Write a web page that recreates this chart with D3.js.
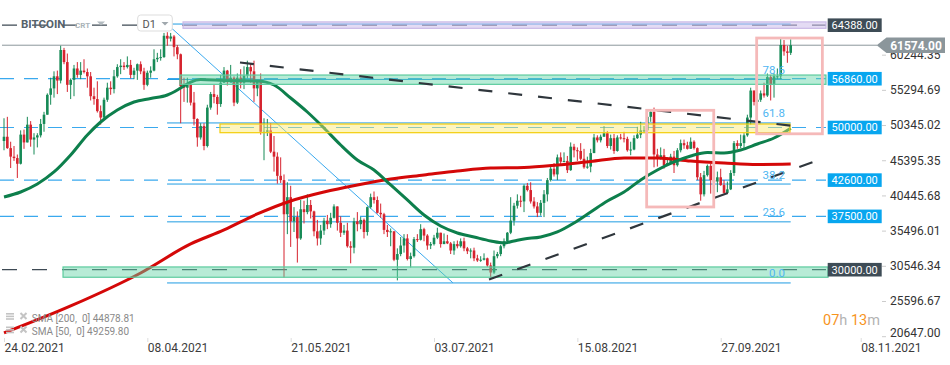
<!DOCTYPE html>
<html><head><meta charset="utf-8">
<script src="https://cdn.jsdelivr.net/npm/d3@7"></script>
<style>
html,body{margin:0;padding:0;background:#fff;}
svg{display:block;font-family:Roboto,"Noto Sans",sans-serif;}
</style></head><body>
<svg id="chart" width="950" height="365"></svg>
<script>
// ---------------- DATA (prices of daily candles, in thousands USD) ----------------
const candleStart = "2021-02-24";
const firstOpenK = 48.1;
const closesK = [48.7,47.1,45.9,45.7,44.9,49.0,47.9,50.4,48.3,48.6,48.9,50.5,51.8,54.6,55.5,57.2,56.6,60.9,59.2,56.0,
56.7,58.3,57.4,58.0,57.8,57.2,54.4,54.0,52.3,51.4,53.9,55.6,55.4,57.2,58.5,58.7,58.5,58.8,57.4,58.0,
58.9,57.9,56.0,57.7,58.0,59.6,59.8,59.9,62.9,62.5,62.8,61.3,60.3,55.8,55.6,56.0,53.5,51.2,48.6,50.2,
47.4,52.8,54.7,54.3,53.3,56.3,58.0,56.4,57.0,53.5,57.0,56.3,57.3,58.5,57.9,55.5,56.4,49.4,49.4,49.6,
46.6,45.9,43.2,42.6,37.8,40.2,36.8,37.4,34.4,38.5,38.1,39.1,38.2,35.4,34.4,35.5,36.9,36.4,37.3,38.9,
36.6,35.2,35.5,33.3,33.1,36.8,36.4,37.0,35.3,38.8,40.2,39.8,38.0,37.8,35.6,35.3,35.4,31.4,32.2,33.4,
34.4,31.5,31.9,34.3,34.2,35.7,34.8,33.4,33.6,34.5,35.2,33.6,34.0,33.7,32.7,33.6,33.3,34.0,33.0,32.6,
32.7,31.6,31.3,31.4,31.6,30.6,29.6,31.9,32.2,33.3,34.0,35.2,36.9,39.0,39.7,39.6,41.8,41.2,39.6,38.9,
38.0,39.4,40.6,42.6,44.2,43.4,45.8,45.2,45.3,44.0,47.3,46.8,46.7,45.6,44.4,44.5,46.4,48.6,48.2,48.7,
49.2,47.4,48.5,46.7,48.6,48.5,48.4,46.8,46.9,48.5,49.0,49.6,49.6,51.5,52.2,46.2,45.8,46.1,44.7,45.0,
45.9,44.7,46.8,47.8,47.5,47.0,48.0,47.1,43.0,40.6,43.3,44.6,42.6,42.4,43.0,41.9,40.8,41.3,43.6,47.8,
47.4,47.8,48.9,51.4,55.2,53.6,53.9,54.8,54.5,57.1,56.0,57.2,57.2,61.6,60.7,60.5,61.574];
const highsK = [51.3,51.5,48.0,47.4,46.2,49.6,49.7,51.5,50.9,49.2,49.2,51.2,52.2,54.8,57.0,57.9,58.0,61.5,61.2,60.4,
56.9,58.8,59.2,59.2,59.6,58.3,57.8,55.6,56.5,53.1,54.2,56.3,56.5,58.1,58.9,59.6,59.2,60.0,59.5,58.4,
59.0,59.3,58.4,58.0,58.6,61.0,60.5,61.0,63.3,63.4,63.3,63.0,61.6,60.4,57.0,57.0,56.5,55.0,51.3,50.6,
50.6,53.2,55.0,56.0,54.6,57.4,58.5,58.1,58.8,57.2,57.6,58.2,58.6,59.4,59.0,59.4,56.7,57.6,51.3,51.2,
50.6,48.8,46.5,45.8,43.4,42.3,41.8,38.8,38.2,39.8,39.7,40.6,39.8,38.3,37.0,36.3,37.3,37.7,38.0,39.2,
38.9,37.5,36.3,36.6,34.0,37.3,38.1,37.4,37.2,38.9,40.7,41.0,40.3,39.3,38.0,36.3,35.8,35.4,33.0,34.6,
35.0,35.0,32.4,34.6,35.0,36.4,35.9,35.0,33.9,34.9,35.9,35.2,35.1,34.9,33.9,34.0,34.1,34.4,34.5,33.2,
33.0,33.1,32.1,31.9,32.3,31.7,31.0,32.7,32.5,33.5,34.4,35.3,40.2,39.4,40.6,40.4,42.0,42.2,42.3,40.2,
39.5,39.8,41.2,42.9,44.5,45.0,46.2,46.5,46.5,46.0,47.9,47.7,47.2,47.8,47.0,45.9,47.0,49.1,48.9,49.0,
50.2,49.5,49.0,49.1,48.9,49.1,49.4,48.7,48.0,48.9,50.1,50.8,50.2,51.6,52.6,52.8,47.0,47.2,47.0,45.8,
46.3,46.7,47.1,48.3,48.3,48.0,48.6,48.2,47.2,43.6,43.9,44.8,44.9,42.9,43.8,44.2,42.6,42.4,44.0,48.1,
48.2,49.0,49.2,51.8,55.6,55.1,56.0,55.2,56.3,57.6,57.4,57.6,58.3,62.6,62.3,61.5,62.4];
const lowsK = [46.8,47.0,44.3,45.3,42.9,44.8,47.0,47.9,47.3,46.2,47.2,48.6,49.4,51.8,53.2,54.2,54.7,56.2,58.9,55.0,
54.0,54.4,57.0,56.8,57.6,55.6,53.8,53.2,52.1,50.4,51.3,53.6,54.6,54.8,57.0,57.5,58.1,58.3,56.9,56.8,
56.7,57.5,55.3,55.8,57.0,57.9,59.2,59.4,59.8,61.5,62.1,60.0,59.6,50.6,53.6,53.5,53.1,50.3,47.3,48.3,
46.8,47.2,52.5,53.4,51.8,52.9,56.3,55.9,56.3,53.0,53.3,55.5,55.4,56.9,56.3,53.6,54.4,49.0,45.4,48.8,
46.4,43.8,42.1,42.2,28.9,35.0,33.2,35.3,31.0,34.2,36.5,37.8,37.2,34.7,33.4,33.5,34.9,35.7,35.9,37.2,
35.5,34.6,34.9,33.1,30.9,32.3,35.4,35.7,34.4,34.8,38.6,39.3,37.9,37.3,35.0,34.6,33.3,31.2,28.5,31.9,
32.4,31.3,30.3,31.7,33.9,34.1,34.0,32.8,32.9,33.4,34.3,33.1,33.6,33.6,32.2,32.1,33.0,33.1,32.6,32.2,
31.6,31.2,31.1,31.1,31.3,30.4,28.9,29.4,31.6,31.9,33.0,33.8,35.0,36.2,38.6,38.8,38.1,41.0,39.3,38.6,
37.4,37.6,37.4,39.6,42.4,43.1,42.6,44.8,45.1,43.6,43.9,45.8,45.3,45.4,44.2,44.2,43.7,46.4,47.9,47.9,
48.7,47.1,46.9,46.3,46.6,48.3,47.9,46.6,46.1,46.8,48.4,48.5,49.2,49.3,50.8,44.4,44.5,45.5,44.2,44.6,
44.8,43.6,44.5,46.5,47.0,46.9,47.0,46.9,42.6,39.7,40.3,43.1,40.7,41.7,40.9,41.8,40.7,40.8,41.2,43.2,
47.0,47.1,46.9,48.7,50.4,53.1,53.3,53.6,54.2,54.3,53.8,54.2,56.8,56.8,60.1,59.1,60.2];

// moving averages (day offset from candleStart, value)
const sma50Days = [0,5,10,15,20,25,29,34,39,44,49,53,56,59,66,76,81,86,91,96,101,106,111,116,121,126,131,136,141,146,150,153,156,161,166,171,176,181,186,191,196,201,206,211,216,221,226,231,236];
const sma50Vals = [40228,40931,42056,43743,46134,48946,50773,52461,53585,54077,54570,55554,56397,56749,56608,56538,55976,54148,52179,49930,47540,45430,44025,41916,39807,37698,36151,35167,34604,34042,33761,34042,34323,34604,35307,36573,38119,39666,40931,42619,44025,45150,45993,46485,46415,46837,47680,48524,49900];
const sma200Days = [0,20,41,56,66,76,86,96,106,116,126,136,146,156,166,176,186,196,206,216,226,236];
const sma200Vals = [21106,24903,29543,33620,35589,37838,39666,40931,41916,42759,43321,43884,44306,44376,44728,45220,45712,45712,45290,45009,44798,44850];

// horizontal levels with price tags
const levelValues = [64388, 56860, 50000, 42600, 37500, 30000];
const levelKinds  = ["dark", "blue", "blue", "blue", "blue", "dark"];
// zones
const zoneLow  = [63950, 56070, 49270, 28938];
const zoneHigh = [64850, 57380, 50492, 30386];
const zoneFrom = ["2021-04-18T17:00Z", "2021-04-17T19:00Z", "2021-04-29T19:00Z", "2021-03-13T17:00Z"];
const zoneTo   = ["2021-10-28T14:00Z", "2021-10-28T14:00Z", "2021-10-17T19:00Z", "2021-10-29T05:00Z"];
const zoneKind = ["purple", "green", "yellow", "green"];
// fibonacci retracement
const fibHigh = 64552, fibLow = 28136;
const fibLevels = [0, 23.6, 38.2, 61.8, 78.6, 100];
const fibLabels = ["0.0", "23.6", "38.2", "61.8", "78.6", ""];
const fibFrom = "2021-04-13T22:00Z", fibTo = "2021-10-18T00:00Z", fibLowDate = "2021-07-08T17:00Z";
// trend lines
const trendDown = [["2021-05-05T19:00Z", 59139], ["2021-10-18T00:00Z", 50267]];
const trendUp   = [["2021-07-19T12:00Z", 28629], ["2021-10-25T14:00Z", 45290]];
// highlight boxes
const boxFrom = ["2021-09-04T19:00Z", "2021-10-07T19:00Z"];
const boxTo   = ["2021-09-24T22:00Z", "2021-10-27T12:00Z"];
const boxTop  = [52418, 62584];
const boxBottom = [38822, 49114];
// axes
const yTickValues = [60244.35, 55294.69, 50345.02, 45395.35, 40445.68, 35496.01, 30546.34, 25596.67, 20647.00];
const xTickLabels = ["2021-02-24", "2021-04-08", "2021-05-21", "2021-07-03", "2021-08-15", "2021-09-27", "2021-11-08"];
const lastPrice = 61574;
const legendTexts = ["SMA [200,  0] 44878.81", "SMA [50,  0] 49259.80"];

// ---------------- CHART ----------------
const DAY = 86400000;
const parse = s => new Date(s.length === 10 ? s + "T00:00:00Z" : s);
const t0 = parse(candleStart).getTime();
const dateOf = i => new Date(t0 + i * DAY);

const x = d3.scaleUtc().domain([parse("2021-02-24"), parse("2021-11-08")]).range([4, 860.7]);
const y = d3.scaleLinear().domain([20647, 64388]).range([336.2, 25.2]);
const svg = d3.select("#chart");

const UP = "#168a56", DOWN = "#d6232e";
const BLUE_D = "#3aa9ee", BLUE_S = "#1f9ce3", DARK = "#3e4a54";

let prev = firstOpenK;
const candles = closesK.map((c, i) => {
  const o = prev; prev = c;
  return { d: dateOf(i), o: o * 1000, c: c * 1000,
           h: Math.max(highsK[i], o, c) * 1000, l: Math.min(lowsK[i], o, c) * 1000 };
});

// level lines (under everything)
const gLev = svg.append("g");
levelValues.forEach((v, i) => {
  const dark = levelKinds[i] === "dark";
  gLev.append("line").attr("x1", dark ? 2 : 0).attr("x2", 826)
    .attr("y1", y(v)).attr("y2", y(v))
    .attr("stroke", dark ? DARK : BLUE_D).attr("stroke-width", dark ? 1.3 : 1.2)
    .attr("stroke-dasharray", dark ? "15,15" : "14,10");
});
// last price line
svg.append("line").attr("x1", 2).attr("x2", 877).attr("y1", y(lastPrice)).attr("y2", y(lastPrice))
  .attr("stroke", "#8b969b").attr("stroke-width", 1);

// fib levels
const gFib = svg.append("g");
fibLevels.forEach((p, i) => {
  const v = fibLow + (fibHigh - fibLow) * p / 100;
  gFib.append("line").attr("x1", x(parse(fibFrom))).attr("x2", x(parse(fibTo)))
    .attr("y1", y(v)).attr("y2", y(v)).attr("stroke", BLUE_S).attr("stroke-width", 1);
});
gFib.append("line").attr("x1", x(parse(fibFrom))).attr("y1", y(fibHigh))
  .attr("x2", x(parse(fibLowDate))).attr("y2", y(fibLow))
  .attr("stroke", "#3aa9ee").attr("stroke-width", 1);

// candles
const gC = svg.append("g");
gC.selectAll("line").data(candles).join("line")
  .attr("x1", d => x(d.d)).attr("x2", d => x(d.d))
  .attr("y1", d => y(d.h)).attr("y2", d => y(d.l))
  .attr("stroke", d => d.c >= d.o ? UP : DOWN).attr("stroke-width", 1);
gC.selectAll("rect").data(candles).join("rect")
  .attr("x", d => x(d.d) - 1.3).attr("width", 2.6)
  .attr("y", d => y(Math.max(d.o, d.c)))
  .attr("height", d => Math.max(1, Math.abs(y(d.o) - y(d.c))))
  .attr("fill", d => d.c >= d.o ? UP : DOWN);

// SMAs
const smaLine = d3.line().x(d => x(d.d)).y(d => y(d.v)).curve(d3.curveMonotoneX);
const sma200 = sma200Days.map((dd, i) => ({ d: dateOf(dd), v: sma200Vals[i] }));
const sma50 = sma50Days.map((dd, i) => ({ d: dateOf(dd), v: sma50Vals[i] }));
svg.append("path").attr("d", smaLine(sma200)).attr("fill", "none").attr("stroke", "#d40808").attr("stroke-width", 3);
svg.append("path").attr("d", smaLine(sma50)).attr("fill", "none").attr("stroke", "#0d7f4c").attr("stroke-width", 3);

// zones
const zoneStyle = {
  purple: { fill: "rgba(205,190,235,0.55)", stroke: "#c9b9e6" },
  green:  { fill: "rgba(95,210,165,0.45)", stroke: "#5ccb9e" },
  yellow: { fill: "rgba(250,232,110,0.45)", stroke: "#f3cd0c" }
};
zoneLow.forEach((lo, i) => {
  const st = zoneStyle[zoneKind[i]];
  const x0 = x(parse(zoneFrom[i])), x1 = x(parse(zoneTo[i]));
  svg.append("rect").attr("x", x0).attr("width", x1 - x0)
    .attr("y", y(zoneHigh[i])).attr("height", y(lo) - y(zoneHigh[i]))
    .attr("fill", st.fill).attr("stroke", st.stroke).attr("stroke-width", 1.2);
});

// trend lines
[trendDown, trendUp].forEach(t => {
  svg.append("line").attr("x1", x(parse(t[0][0]))).attr("y1", y(t[0][1]))
    .attr("x2", x(parse(t[1][0]))).attr("y2", y(t[1][1]))
    .attr("stroke", "#2f363c").attr("stroke-width", 2.2).attr("stroke-dasharray", "14,16");
});

// highlight boxes
boxFrom.forEach((f, i) => {
  const x0 = x(parse(f)), x1 = x(parse(boxTo[i]));
  svg.append("rect").attr("x", x0).attr("width", x1 - x0)
    .attr("y", y(boxTop[i])).attr("height", y(boxBottom[i]) - y(boxTop[i]))
    .attr("fill", "none").attr("stroke", "#f5b9b9").attr("stroke-width", 2.8);
});

// fib labels
fibLevels.forEach((p, i) => {
  if (!fibLabels[i]) return;
  const v = fibLow + (fibHigh - fibLow) * p / 100;
  svg.append("text").attr("x", 785).attr("y", y(v) - 5.5).attr("text-anchor", "end")
    .attr("font-size", 11.5).attr("fill", "#4fb6f2").text(fibLabels[i]);
});

// title
svg.append("text").attr("x", 21).attr("y", 28).attr("font-size", 11.5).attr("font-weight", "bold")
  .attr("fill", "#56626b").text("BITCOIN");
svg.append("text").attr("x", 75).attr("y", 27.5).attr("font-size", 8).attr("font-weight", "bold")
  .attr("fill", "#aab3b9").text("CRT");
svg.append("path").attr("d", "M97,21.5 L105,21.5 L101,25.5 Z").attr("fill", "#b3bbc0");
svg.append("rect").attr("x", 137.7).attr("y", 15).attr("width", 34.6).attr("height", 16).attr("rx", 3)
  .attr("fill", "#fff").attr("stroke", "#dddddd");
svg.append("text").attr("x", 142.5).attr("y", 27.5).attr("font-size", 11).attr("fill", "#555").text("D1");
svg.append("path").attr("d", "M161.5,22 L168.5,22 L165,25.5 Z").attr("fill", "#a0a8ad");

// right axis
const gy = svg.append("g").attr("transform", "translate(882,0)")
  .call(d3.axisRight(y).tickValues(yTickValues).tickFormat(d => d.toFixed(2)).tickSize(4).tickPadding(4));
gy.select(".domain").remove();
gy.selectAll("line").attr("stroke", "#cccccc");
gy.selectAll("text").attr("font-size", 12).attr("fill", "#333").attr("font-family", "Roboto")
  .attr("dy", d => d === 20647 ? "0.05em" : "0.32em");

// level tags
levelValues.forEach((v, i) => {
  const dark = levelKinds[i] === "dark";
  svg.append("rect").attr("x", 827.7).attr("width", 54).attr("y", y(v) - 6.8).attr("height", 13.6)
    .attr("fill", dark ? "#3e4c56" : "#08a6ef");
  svg.append("text").attr("x", 854.7).attr("y", y(v)).attr("dy", "0.36em").attr("text-anchor", "middle")
    .attr("font-size", 11).attr("fill", "#fff").text(d3.format(".2f")(v));
});
// last price tag
const py = y(lastPrice);
svg.append("path").attr("d", `M876.7,${py} L886.5,${py - 7.7} L945,${py - 7.7} L945,${py + 7.7} L886.5,${py + 7.7} Z`)
  .attr("fill", "#8b969b");
svg.append("text").attr("x", 916).attr("y", py).attr("dy", "0.36em").attr("text-anchor", "middle")
  .attr("font-size", 12).attr("font-weight", "bold").attr("fill", "#fff").text(d3.format(".2f")(lastPrice));

// bottom axis
const gx = svg.append("g").attr("transform", "translate(0,338)")
  .call(d3.axisBottom(x).tickValues(xTickLabels.map(parse)).tickFormat(d3.utcFormat("%d.%m.%Y")).tickSize(4));
gx.select(".domain").remove();
gx.selectAll("line").attr("stroke", "#dddddd");
gx.selectAll("text").attr("text-anchor", "start").attr("y", 5).attr("font-size", 12)
  .attr("fill", "#3c3c3c").attr("font-family", "Roboto");

// legend
legendTexts.forEach((t, i) => {
  const by = 313 + i * 13.5;
  const g = svg.append("g");
  [0, 2.6, 5.2].forEach(o => g.append("rect").attr("x", 6).attr("y", by + o).attr("width", 8).attr("height", 1.6).attr("fill", "#c4c4c4"));
  g.append("path").attr("d", `M20.5,${by} L26.5,${by + 6} M26.5,${by} L20.5,${by + 6}`)
    .attr("stroke", "#c4c4c4").attr("stroke-width", 2);
  g.append("text").attr("x", 31.7).attr("y", by + 8.5).attr("font-size", 10).attr("fill", "#8a8a8a")
    .style("white-space", "pre").text(t);
});

// countdown
const tm = svg.append("text").attr("x", 823).attr("y", 324.5).attr("font-size", 14.5);
tm.append("tspan").attr("fill", "#f7941d").text("07");
tm.append("tspan").attr("fill", "#b3b3b3").text("h ");
tm.append("tspan").attr("fill", "#f7941d").text("13");
tm.append("tspan").attr("fill", "#b3b3b3").text("m");
</script>
</body></html>
